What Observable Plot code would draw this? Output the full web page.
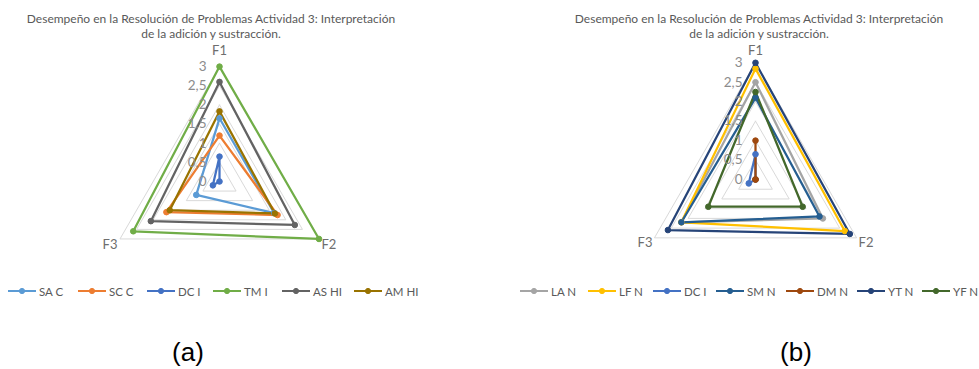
<!DOCTYPE html>
<html><head><meta charset="utf-8">
<script src="https://cdn.jsdelivr.net/npm/d3@7"></script>
<script src="https://cdn.jsdelivr.net/npm/@observablehq/plot@0.6"></script>
<style>
body{margin:0;background:#fff;}
#root{position:relative;width:979px;height:369px;overflow:hidden;font-family:Lato,"Open Sans",sans-serif;background:#fff;}
.title{position:absolute;color:#595959;font-size:12px;text-align:center;line-height:15px;white-space:nowrap;width:560px;}
.item{position:absolute;display:flex;align-items:center;font-size:11.5px;color:#595959;white-space:nowrap;height:14px;}
.item span{margin-left:3px;}
.panel{position:absolute;}
.cap{position:absolute;font-family:"Liberation Sans",Arial,sans-serif;font-size:26px;color:#000;width:80px;text-align:center;line-height:30px;}
</style></head>
<body><div id="root"></div>
<script>
// ---- data ----
const axes = ["F1", "F2", "F3"];
const tickValues = [0, 0.5, 1, 1.5, 2, 2.5, 3];
const tickLabels = ["0", "0,5", "1", "1,5", "2", "2,5", "3"];
const titleLines = ["Desempeño en la Resolución de Problemas Actividad 3: Interpretación", "de la adición y sustracción."];
const captions = ["(a)", "(b)"];

const seriesA = ["SA C", "SC C", "DC I", "TM I", "AS HI", "AM HI"];
const A_F1 = [1.65, 1.2, 0.65, 3.0, 2.6, 1.83];
const A_F2 = [1.65, 1.75, 0.0, 3.0, 2.27, 1.67];
const A_F3 = [0.7, 1.6, 0.2, 2.6, 2.07, 1.5];
const colorsA = ["#5B9BD5", "#ED7D31", "#4472C4", "#70AD47", "#636363", "#997300"];

const seriesB = ["LA N", "LF N", "DC I", "SM N", "DM N", "YT N", "YF N"];
const B_F1 = [2.5, 2.85, 0.65, 2.1, 1.0, 3.0, 2.25];
const B_F2 = [2.0, 2.65, 0.0, 1.9, 0.0, 2.8, 1.4];
const B_F3 = [2.2, 2.2, 0.2, 2.2, 0.0, 2.6, 1.4];
const colorsB = ["#A5A5A5", "#FFC000", "#4472C4", "#255E91", "#9E480E", "#264478", "#43682B"];

// ---- layout (positions, not data) ----
const legendXA = [8, 78, 147, 213, 282, 354];
const legendXB = [520, 588, 653, 716, 786, 857, 922];

const root = document.getElementById("root");
const ang = axes.map((d, i) => i * 2 * Math.PI / 3);
const px = (v, i) => v * Math.sin(ang[i]);
const py = (v, i) => v * Math.cos(ang[i]);

function radar(series, f1, f2, f3, colors, k, labelR) {
  const W = 320, H = 240, cx = 160, cy = 140;
  const grid = [];
  tickValues.slice(1).forEach(t => [0, 1, 2, 0].forEach(i => grid.push({level: t, x: px(t, i), y: py(t, i)})));
  const vals = [f1, f2, f3];
  const pts = [];
  series.forEach((s, si) => axes.forEach((a, i) => {
    const v = vals[i][si];
    pts.push({series: s, axis: a, v, x: px(v, i), y: py(v, i)});
  }));
  return Plot.plot({
    width: W, height: H, margin: 0,
    style: {fontFamily: "Lato, sans-serif", background: "transparent", overflow: "visible"},
    x: {domain: [-cx / k, (W - cx) / k], axis: null},
    y: {domain: [-(H - cy) / k, cy / k], axis: null},
    color: {domain: series, range: colors},
    marks: [
      Plot.line(grid, {x: "x", y: "y", z: "level", stroke: "#D9D9D9", strokeWidth: 1}),
      Plot.line(pts, {x: "x", y: "y", z: "series", stroke: "series", curve: "linear-closed", strokeWidth: 2.25}),
      Plot.dot(pts, {x: "x", y: "y", fill: "series", stroke: "series", r: 2.8, strokeWidth: 1}),
      Plot.text(tickValues, {x: () => 0, y: d => d, text: (d, i) => tickLabels[i], textAnchor: "end", dx: -13, fontSize: 13.5, fill: "#8C8C8C"}),
      Plot.text(axes, {x: (d, i) => px(labelR[i], i), y: (d, i) => py(labelR[i], i), text: d => d, fontSize: 13, fill: "#6E6E6E"})
    ]
  });
}

function addPanel(series, f1, f2, f3, colors, k, cx, cy, labelR, titleCx, legendX) {
  const p = document.createElement("div");
  p.className = "panel";
  p.style.left = (cx - 160) + "px";
  p.style.top = (cy - 140) + "px";
  p.appendChild(radar(series, f1, f2, f3, colors, k, labelR));
  root.appendChild(p);

  const t = document.createElement("div");
  t.className = "title";
  t.style.left = (titleCx - 280) + "px";
  t.style.top = "11px";
  t.innerHTML = titleLines.join("<br>");
  root.appendChild(t);

  series.forEach((s, i) => {
    const it = document.createElement("div");
    it.className = "item";
    it.style.left = legendX[i] + "px";
    it.style.top = "284px";
    it.innerHTML = `<svg width="28" height="10"><line x1="0" y1="5" x2="28" y2="5" stroke="${colors[i]}" stroke-width="2"/><circle cx="14" cy="5" r="2.6" fill="${colors[i]}" stroke="${colors[i]}"/></svg><span>${s}</span>`;
    root.appendChild(it);
  });
}

addPanel(seriesA, A_F1, A_F2, A_F3, colorsA, 38.3, 219, 180.5, [3.4, 3.3, 3.3], 211, legendXA);
addPanel(seriesB, B_F1, B_F2, B_F3, colorsB, 38.9, 755, 179, [3.3, 3.28, 3.28], 759, legendXB);

[[188, captions[0]], [796, captions[1]]].forEach(([x, c]) => {
  const d = document.createElement("div");
  d.className = "cap";
  d.style.left = (x - 40) + "px";
  d.style.top = "337px";
  d.textContent = c;
  root.appendChild(d);
});
</script>
</body></html>
